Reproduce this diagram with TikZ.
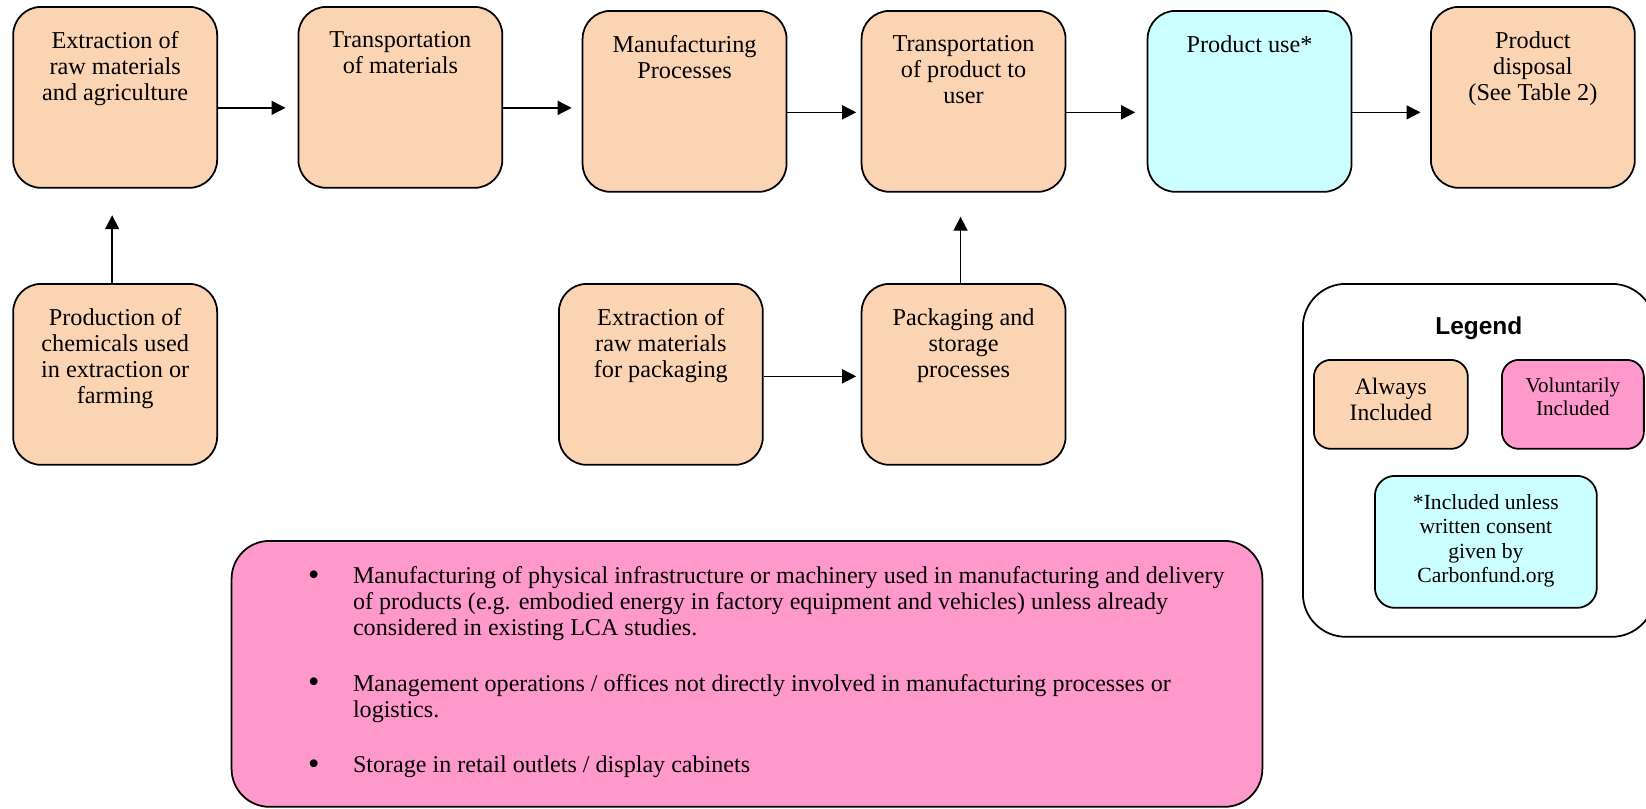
\documentclass[tikz,border=0pt]{standalone}
\usepackage{fontspec}
\usepackage{graphicx}
\setmainfont{Liberation Serif}
\setsansfont{Liberation Sans}
\usetikzlibrary{arrows.meta,positioning}
\definecolor{AlwaysFill}{HTML}{FBD4B4}
\definecolor{VoluntaryFill}{HTML}{FF99CC}
\definecolor{UseFill}{HTML}{CCFFFF}
\newcommand{\boxfont}{\fontsize{13.8}{14.85}\selectfont}
\newcommand{\listfont}{\fontsize{13.7}{14.85}\selectfont}
\newcommand{\alwaysfont}{\fontsize{13.4}{14.7}\selectfont}
\newcommand{\volfont}{\fontsize{12}{12.9}\selectfont}
\newcommand{\keyfont}{\fontsize{12.3}{13.9}\selectfont}
\newcommand{\bigbullet}{\raisebox{-0.07em}{\scalebox{1.35}{\textbullet}}}

\begin{document}
\begin{tikzpicture}[x=0.02cm,y=-0.02cm,
  stage/.style={draw,line width=1pt,rounded corners=0.56cm,fill=AlwaysFill,
    minimum width=4.08cm,minimum height=3.62cm,anchor=north west,inner sep=0pt},
  stagetext/.style={align=center,font=\boxfont,inner sep=0pt},
  keybox/.style={draw,line width=1pt,rounded corners=0.34cm,anchor=north west,inner sep=0pt},
  flow/.style={-{Triangle[length=0.28cm,width=0.28cm]},line width=0.8pt}]
  \useasboundingbox (0,0) rectangle (1646,808);

  % life cycle stages, top row
  \node[stage] (raw) at (12.3,6) {};
  \node[stage] (trans) at (297.5,6) {};
  \node[stage] (manu) at (581.7,10) {};
  \node[stage] (deliv) at (860.7,10) {};
  \node[stage,fill=UseFill] (use) at (1146.7,10) {};
  \node[stage] (disp) at (1430,6) {};
  % feeding stages, second row
  \node[stage] (chem) at (12.3,283) {};
  \node[stage] (packraw) at (558,283) {};
  \node[stage] (pack) at (860.7,283) {};

  \node[stagetext,below=0.5cm of raw.north] (rawtxt) {Extraction of\\raw materials\\and agriculture};
  \node[stagetext,below=0.5cm of trans.north] (transtxt) {Transportation\\of materials};
  \node[stagetext,below=0.5cm of manu.north] (manutxt) {Manufacturing\\Processes};
  \node[stagetext,below=0.5cm of deliv.north] (delivtxt) {Transportation\\of product to\\user};
  \node[stagetext,below=0.5cm of use.north] (usetxt) {Product use*};
  \node[stagetext,below=0.5cm of disp.north] (disptxt) {Product\\disposal\\(See Table 2)};
  \node[stagetext,below=0.5cm of chem.north] (chemtxt) {Production of\\chemicals used\\in extraction or\\farming};
  \node[stagetext,below=0.5cm of packraw.north] (packrawtxt) {Extraction of\\raw materials\\for packaging};
  \node[stagetext,below=0.5cm of pack.north] (packtxt) {Packaging and\\storage\\processes};

  % flow arrows
  \draw[flow,shorten >=0.24cm] ([yshift=-0.21cm]raw.east) -- ([yshift=-0.21cm]raw.east -| trans.west);
  \draw[flow,shorten >=0.2cm] ([yshift=-0.21cm]trans.east) -- ([yshift=-0.21cm]trans.east -| manu.west);
  \draw[flow,shorten >=0.09cm] ([yshift=-0.22cm]manu.east) -- ([yshift=-0.22cm]manu.east -| deliv.west);
  \draw[flow,shorten >=0.23cm] ([yshift=-0.22cm]deliv.east) -- ([yshift=-0.22cm]deliv.east -| use.west);
  \draw[flow,shorten >=0.19cm] ([yshift=-0.22cm]use.east) -- ([yshift=-0.22cm]use.east -| disp.west);
  \draw[flow,shorten >=0.53cm] ([xshift=-0.06cm]chem.north) -- ([xshift=-0.06cm]chem.north |- raw.south);
  \draw[flow,shorten >=0.48cm] ([xshift=-0.06cm]pack.north) -- ([xshift=-0.06cm]pack.north |- deliv.south);
  \draw[flow,shorten >=0.09cm] ([yshift=-0.04cm]packraw.east) -- ([yshift=-0.04cm]packraw.east -| pack.west);

  % voluntary items
  \node[draw,line width=1pt,rounded corners=0.76cm,fill=VoluntaryFill,minimum width=20.62cm,
    minimum height=5.32cm,anchor=north west,inner sep=0pt] (extra) at (230.7,540) {};
  \node[anchor=north west,inner sep=0pt,font=\listfont] (extralist)
    at ([xshift=1.54cm,yshift=-0.5cm]extra.north west) {%
    \begin{tabular}{@{}p{0.9cm}@{}l@{}}
      \bigbullet & Manufacturing of physical infrastructure or machinery used in manufacturing and delivery\\
      & of products (e.g. embodied energy in factory equipment and vehicles) unless already\\
      & considered in existing LCA studies.\\[16.6pt]
      \bigbullet & Management operations / offices not directly involved in manufacturing processes or\\
      & logistics.\\[16.6pt]
      \bigbullet & Storage in retail outlets / display cabinets
    \end{tabular}};

  % legend
  \node[draw,line width=1pt,rounded corners=0.86cm,minimum width=7.04cm,minimum height=7.06cm,
    anchor=north west,inner sep=0pt] (legend) at (1302,283) {};
  \node[font=\sffamily\bfseries\fontsize{13.9}{16}\selectfont,inner sep=0pt,below=0.66cm of legend.north] (legendtitle) {Legend};
  \node[keybox,fill=AlwaysFill,minimum width=3.08cm,minimum height=1.78cm] (always) at (1313,359) {};
  \node[keybox,fill=VoluntaryFill,minimum width=2.84cm,minimum height=1.78cm] (volun) at (1501,359) {};
  \node[keybox,fill=UseFill,rounded corners=0.4cm,minimum width=4.44cm,minimum height=2.64cm] (unless) at (1374,475) {};
  \node[stagetext,font=\alwaysfont,below=0.37cm of always.north] (alwaystxt) {Always\\Included};
  \node[stagetext,font=\volfont,below=0.37cm of volun.north] (voluntxt) {Voluntarily\\Included};
  \node[stagetext,font=\keyfont,below=0.38cm of unless.north] (unlesstxt) {*Included unless\\written consent\\given by\\Carbonfund.org};
\end{tikzpicture}
\end{document}
